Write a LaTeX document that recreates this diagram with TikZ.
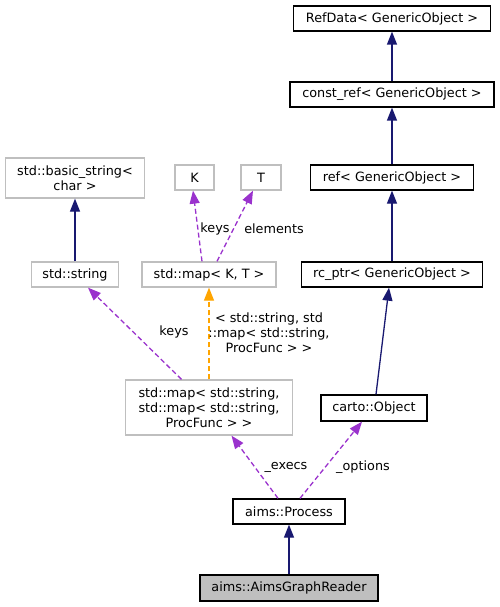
\documentclass[tikz,border=0pt]{standalone}
\usepackage{fontspec}
\setmainfont{DejaVu Sans}
\usetikzlibrary{arrows.meta}
\definecolor{navy}{HTML}{191970}
\definecolor{dorchid}{HTML}{9A32CD}
\definecolor{dorange}{HTML}{FFA500}
\definecolor{boxgray}{HTML}{BFBFBF}
\begin{document}
\begin{tikzpicture}[x=1pt,y=-1pt,
	every node/.style={font=\fontsize{12.8}{15}\selectfont, inner sep=0pt, align=center},
	cls/.style={draw=black, line width=1.3pt, minimum height=25pt},
	ext/.style={draw=boxgray, line width=1.3pt, minimum height=25pt},
	cur/.style={cls, fill=boxgray},
	inh/.style={draw=navy, line width=1.3pt, -{Triangle[length=13pt,width=10pt]}},
	use/.style={draw=dorchid, line width=1.3pt, dash pattern=on 5pt off 3pt, -{Triangle[length=13pt,width=10pt]}},
	tpl/.style={draw=dorange, line width=1.3pt, dash pattern=on 5pt off 3pt, -{Triangle[length=13pt,width=10pt]}}]
	\useasboundingbox (0,0) rectangle (499,607);
	% right column
	\node [cls, minimum width=197pt] (refdata) at (392,18.5) {RefData< GenericObject >};
	\node [cls, minimum width=204pt] (constref) at (392,94.5) {const\_ref< GenericObject >};
	\node [cls, minimum width=163pt] (ref) at (392,177.5) {ref< GenericObject >};
	\node [cls, minimum width=181pt] (rcptr) at (392,274.5) {rc\_ptr< GenericObject >};
	\node [cls, minimum width=106pt, minimum height=26pt] (object) at (374,408) {carto::Object};
	% left part
	\node [ext, minimum width=139pt, minimum height=40pt] (basicstr) at (75,178) {std::basic\_string<\\char >};
	\node [ext, minimum width=39pt] (K) at (194.5,177.5) {K};
	\node [ext, minimum width=40pt] (T) at (261,177.5) {T};
	\node [ext, minimum width=87pt] (stdstr) at (75,274.5) {std::string};
	\node [ext, minimum width=134pt] (mapkt) at (209,274.5) {std::map< K, T >};
	\node [ext, minimum width=167pt, minimum height=55pt] (procmap) at (209,407.5) {std::map< std::string,\\ std::map< std::string,\\ProcFunc > >};
	% bottom
	\node [cls, minimum width=112pt] (process) at (289,511.5) {aims::Process};
	\node [cur, minimum width=178pt, minimum height=26pt] (reader) at (289,588) {aims::AimsGraphReader};
	% inheritance
	\draw [inh] (constref) -- (refdata);
	\draw [inh] (ref) -- (constref);
	\draw [inh] (rcptr) -- (ref);
	\draw [inh] ([xshift=2pt]object.north) -- ([xshift=-3pt]rcptr.south);
	\draw [inh] (stdstr) -- (basicstr);
	\draw [inh] (reader) -- (process);
	% usage
	\draw [use] ([xshift=-7pt]mapkt.north) -- ([xshift=-1.5pt]K.south);
	\draw [use] ([xshift=8pt]mapkt.north) -- ([xshift=-8pt]T.south);
	\draw [use] ([xshift=-27.5pt]procmap.north) -- ([xshift=13pt]stdstr.south);
	\draw [tpl] (procmap.north) -- (mapkt.south);
	\draw [use] ([xshift=-11pt]process.north) -- ([xshift=22.5pt]procmap.south);
	\draw [use] ([xshift=11pt]process.north) -- ([xshift=-12pt]object.south);
	% labels
	\node (lkeys) at (215,229) {keys};
	\node (lelems) at (274,229) {elements};
	\node (lskeys) at (174,332) {keys};
	\node (ltpl) at (269,333) {< std::string, std\\::map< std::string,\\ProcFunc > >};
	\node (lexecs) at (286,467) {\_execs};
	\node (lopts) at (363,467) {\_options};
\end{tikzpicture}
\end{document}
